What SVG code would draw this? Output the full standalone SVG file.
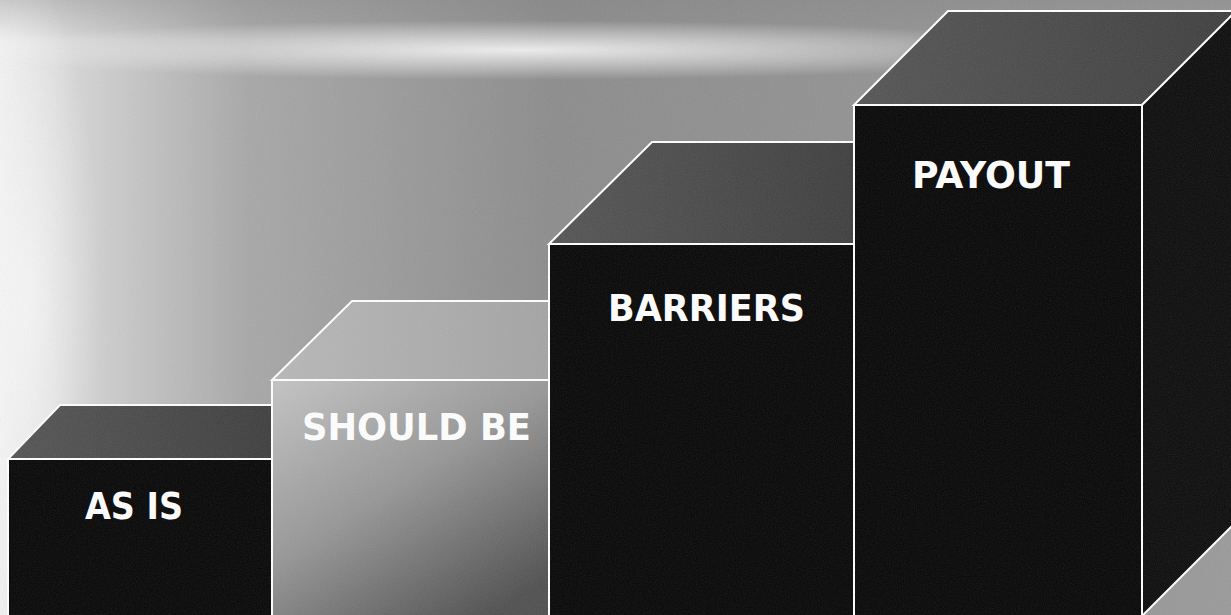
<svg xmlns="http://www.w3.org/2000/svg" width="1231" height="615" viewBox="0 0 1231 615">
  <defs>
    <linearGradient id="bgH" x1="0" y1="0" x2="1" y2="0">
      <stop offset="0" stop-color="#f2f2f2"/>
      <stop offset="0.06" stop-color="#d6d6d6"/>
      <stop offset="0.2" stop-color="#a8a8a8"/>
      <stop offset="0.45" stop-color="#8c8c8c"/>
      <stop offset="1" stop-color="#9a9a9a"/>
    </linearGradient>
    <radialGradient id="band" cx="0.5" cy="0.5" r="0.5">
      <stop offset="0" stop-color="#ffffff" stop-opacity="0.85"/>
      <stop offset="0.6" stop-color="#ffffff" stop-opacity="0.35"/>
      <stop offset="1" stop-color="#ffffff" stop-opacity="0"/>
    </radialGradient>
    <linearGradient id="topShade" x1="0" y1="0" x2="0" y2="1">
      <stop offset="0" stop-color="#808080" stop-opacity="0.35"/>
      <stop offset="1" stop-color="#808080" stop-opacity="0"/>
    </linearGradient>
    <linearGradient id="sbFront" x1="0" y1="0" x2="0.7" y2="1">
      <stop offset="0" stop-color="#c4c4c4"/>
      <stop offset="0.5" stop-color="#969696"/>
      <stop offset="1" stop-color="#505050"/>
    </linearGradient>
    <linearGradient id="sbTop" x1="0" y1="0" x2="1" y2="0">
      <stop offset="0" stop-color="#b8b8b8"/>
      <stop offset="1" stop-color="#a4a4a4"/>
    </linearGradient>
    <linearGradient id="darkTop" x1="0" y1="0" x2="1" y2="0">
      <stop offset="0" stop-color="#555555"/>
      <stop offset="1" stop-color="#3e3e3e"/>
    </linearGradient>
    <filter id="noise" x="0" y="0" width="100%" height="100%">
      <feTurbulence type="fractalNoise" baseFrequency="0.85" numOctaves="2" seed="3"/>
      <feColorMatrix type="saturate" values="0"/>
    </filter>
    <style>
      .edge { stroke: #ffffff; stroke-width: 2; stroke-linejoin: miter; }
      .front { fill: #060606; }
      .side { fill: #0c0c0c; }
      .lbl { font-family: "DejaVu Sans", Tahoma, Verdana, sans-serif; font-weight: bold; font-size: 38px; fill: #ffffff; }
    </style>
  </defs>

  <g id="background">
    <rect x="0" y="0" width="1231" height="615" fill="url(#bgH)"/>
    <rect x="0" y="0" width="1231" height="40" fill="url(#topShade)"/>
    <ellipse cx="520" cy="50" rx="560" ry="30" fill="url(#band)"/>
    <ellipse cx="30" cy="300" rx="70" ry="320" fill="url(#band)" opacity="0.7"/>
  </g>

  <g id="node-as-is">
    <polygon class="edge" points="8,459 60,405 272,405 272,459" fill="url(#darkTop)"/>
    <rect class="edge front" x="8" y="459" width="264" height="170"/>
    <text class="lbl" x="85" y="519" textLength="98" lengthAdjust="spacingAndGlyphs">AS IS</text>
  </g>

  <g id="node-should-be">
    <polygon class="edge" points="272,380 352,301 549,301 549,380" fill="url(#sbTop)"/>
    <rect class="edge" x="272" y="380" width="277" height="250" fill="url(#sbFront)"/>
    <text class="lbl" x="302" y="440" textLength="229" lengthAdjust="spacingAndGlyphs">SHOULD BE</text>
  </g>

  <g id="node-barriers">
    <polygon class="edge" points="549,244 652,142 854,142 854,244" fill="url(#darkTop)"/>
    <rect class="edge front" x="549" y="244" width="305" height="390"/>
    <text class="lbl" x="608" y="321" textLength="197" lengthAdjust="spacingAndGlyphs">BARRIERS</text>
  </g>

  <g id="node-payout">
    <polygon class="edge" points="854,105 948,11 1240,11 1142,105" fill="url(#darkTop)"/>
    <polygon class="edge side" points="1142,105 1240,7 1240,518 1142,616"/>
    <rect class="edge front" x="854" y="105" width="288" height="530"/>
    <text class="lbl" x="912" y="188" textLength="158" lengthAdjust="spacingAndGlyphs">PAYOUT</text>
  </g>

  <g id="connectors"/>

  <rect id="texture" x="0" y="0" width="1231" height="615" filter="url(#noise)" opacity="0.12" pointer-events="none"/>
</svg>
